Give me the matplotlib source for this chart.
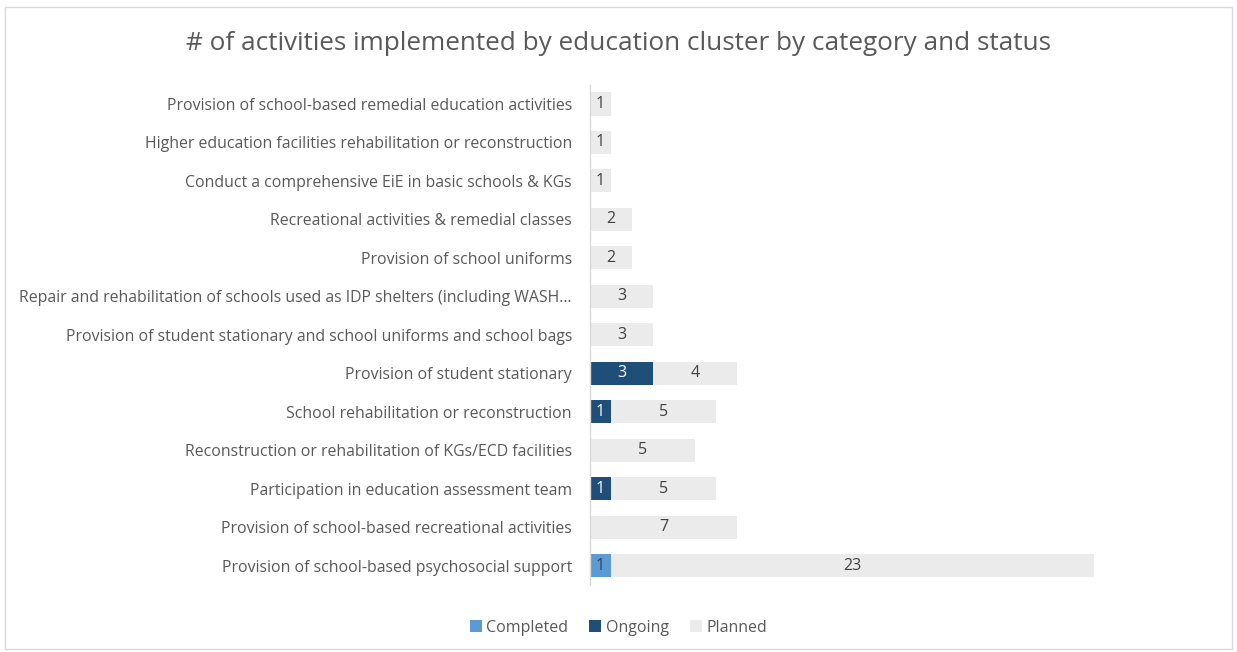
import matplotlib
matplotlib.use('Agg')
import matplotlib.pyplot as plt
import numpy as np
from matplotlib.patches import Rectangle

plt.rcParams['font.family'] = ['Open Sans', 'DejaVu Sans']

CATEGORIES = [
    'Provision of school-based psychosocial support',
    'Provision of school-based recreational activities',
    'Participation in education assessment team',
    'Reconstruction or rehabilitation of KGs/ECD facilities',
    'School rehabilitation or reconstruction',
    'Provision of student stationary',
    'Provision of student stationary and school uniforms and school bags',
    'Repair and rehabilitation of schools used as IDP shelters (including WASH\u2026',
    'Provision of school uniforms',
    'Recreational activities & remedial classes',
    'Conduct a comprehensive EiE in basic schools & KGs',
    'Higher education facilities rehabilitation or reconstruction',
    'Provision of school-based remedial education activities',
]
COMPLETED = [1, 0, 0, 0, 0, 0, 0, 0, 0, 0, 0, 0, 0]
ONGOING = [0, 0, 1, 0, 1, 3, 0, 0, 0, 0, 0, 0, 0]
PLANNED = [23, 7, 5, 5, 5, 4, 3, 3, 2, 2, 1, 1, 1]

SERIES = ['Completed', 'Ongoing', 'Planned']
COLORS = ['#5B9BD5', '#1F4E79', '#EBEBEB']
LABEL_COLORS = ['#404040', 'white', '#404040']
TEXT = '#595959'

fig = plt.figure(figsize=(12.37, 6.52), dpi=100)
ax = fig.add_axes([0.477, 0.103, 0.509, 0.767])

y = np.arange(len(CATEGORIES))
left = np.zeros(len(CATEGORIES))
for name, vals, col, lcol in zip(SERIES, [COMPLETED, ONGOING, PLANNED], COLORS, LABEL_COLORS):
    vals = np.array(vals, dtype=float)
    ax.barh(y, vals, left=left, height=0.6, color=col, label=name, zorder=2)
    for yi, l, v in zip(y, left, vals):
        if v > 0:
            ax.text(l + v / 2, yi, f'{int(v)}', ha='center', va='center',
                    fontsize=11.5, color=lcol, zorder=3)
    left += vals

ax.set_xlim(0, 30)
ax.set_ylim(-0.5, len(CATEGORIES) - 0.5)
ax.set_yticks(y)
ax.set_yticklabels(CATEGORIES, fontsize=11.45, color=TEXT)
ax.tick_params(axis='y', length=0, pad=13)
ax.set_xticks([])
for s in ['top', 'right', 'bottom']:
    ax.spines[s].set_visible(False)
ax.spines['left'].set_color('#D9D9D9')
ax.spines['left'].set_linewidth(1.0)

fig.text(0.5, 0.933, '# of activities implemented by education cluster by category and status',
         ha='center', va='center', fontsize=18.8, color=TEXT)

fig.legend(loc='center', bbox_to_anchor=(0.5, 0.037), ncol=3, frameon=False,
           fontsize=11.5, labelcolor=TEXT, handlelength=0.75, handleheight=0.75,
           handletextpad=0.3, columnspacing=1.3)

fig.patches.append(Rectangle((0.004, 0.004), 0.992, 0.985, transform=fig.transFigure,
                             fill=False, edgecolor='#D9D9D9', linewidth=1.0))

fig.savefig('out.png', dpi=100)
